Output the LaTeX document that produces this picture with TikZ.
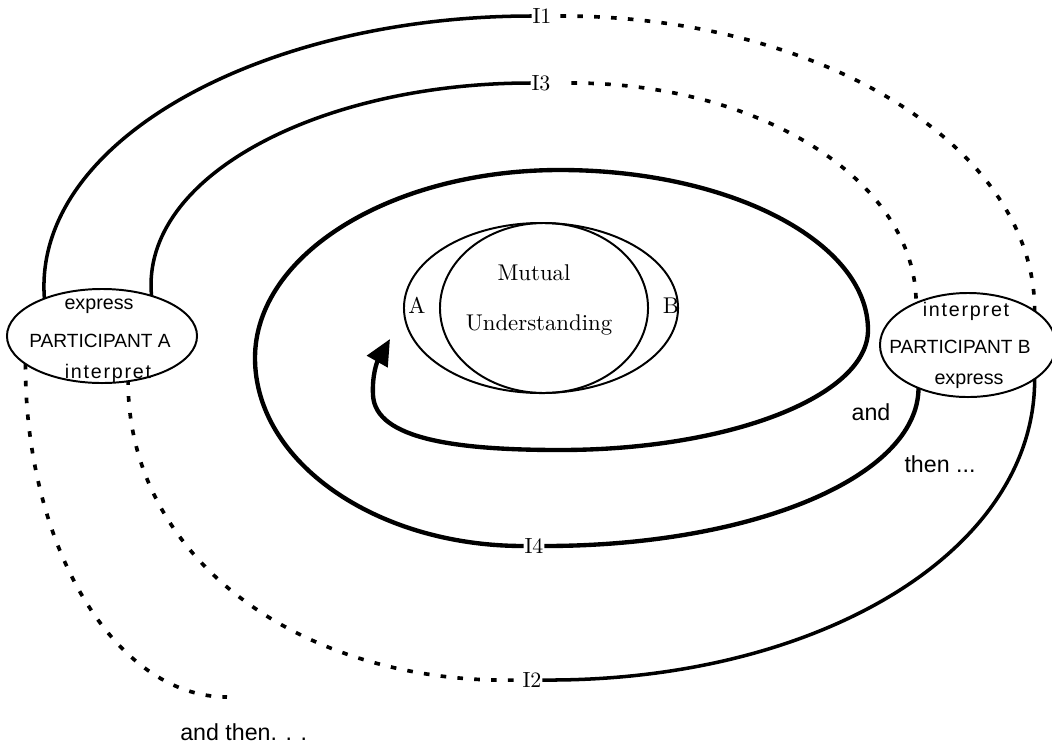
\documentclass[tikz,border=0pt]{standalone}
\usepackage{fontspec}
\newfontfamily\arialf{Liberation Sans}
\newfontfamily\arialwide{Liberation Sans}[LetterSpace=9]
\newfontfamily\lmten{lmroman10-regular}[Extension=.otf]
\usetikzlibrary{arrows.meta,shapes.geometric}
\begin{document}
\begin{tikzpicture}[x=0.025cm,y=-0.025cm,
  ell/.style={draw, ellipse, line width=1.4pt, inner sep=0pt, outer sep=0pt},
  solidline/.style={line width=2.5pt},
  thickline/.style={line width=3.1pt},
  dotline/.style={line width=2.6pt, dash pattern=on 4pt off 8pt},
  ilabel/.style={font=\lmten\fontsize{15.6}{18}\selectfont, inner sep=0.5pt},
  serlab/.style={font=\lmten\fontsize{16.2}{19}\selectfont, inner sep=0pt, anchor=base},
  sanslab/.style={font=\arialf\fontsize{13.6}{16}\selectfont, inner sep=0pt, anchor=base},
  explab/.style={font=\arialf\fontsize{14}{16}\selectfont, inner sep=0pt, anchor=base},
  widelab/.style={font=\arialwide\fontsize{14}{16}\selectfont, inner sep=0pt, anchor=base},
  biglab/.style={font=\arialf\fontsize{16.5}{19}\selectfont, inner sep=0pt, anchor=base}]
\useasboundingbox (0,0) rectangle (1052,745);

% participant ellipses
\node[ell, minimum width=4.75cm, minimum height=2.35cm] (A) at (102,336) {};
\node[ell, minimum width=4.4cm, minimum height=2.6cm] (B) at (968,345) {};
% mutual understanding
\node[ell, minimum width=6.85cm, minimum height=4.25cm] (UA) at (541,308) {};
\node[ell, minimum width=5.2cm, minimum height=4.25cm] (UB) at (544,308) {};

% texts
\node[explab] (Aexp) at (99,309) {express};
\node[sanslab] (Apart) at (100,347) {PARTICIPANT A};
\node[widelab] (Aint) at (108,378) {interpret};
\node[widelab] (Bint) at (966,316) {interpret};
\node[sanslab] (Bpart) at (960,353) {PARTICIPANT B};
\node[explab] (Bexp) at (969,384) {express};
\node[serlab] (mut) at (534,280) {Mutual};
\node[serlab] (und) at (539,330) {Understanding};
\node[serlab] (la) at (417,313) {A};
\node[serlab] (lb) at (671,313) {B};
\node[ilabel] (I1) at (542,16) {I1};
\node[ilabel] (I3) at (541,83) {I3};
\node[ilabel] (I4) at (534,546) {I4};
\node[ilabel] (I2) at (532,680) {I2};
\node[biglab] (and1) at (871,420) {and};
\node[biglab] (then1) at (940,472) {then ...};
\node[biglab, anchor=base west] (andthen) at (180,740) {and then. . .};

% I1
\draw[solidline] (A.147) .. controls (32,140) and (264,16) .. (I1.west);
\draw[dotline, shorten <=0.2cm] (I1.east) .. controls (823,16) and (1035,148) .. (B.27);
% I3
\draw[solidline] (A.39) .. controls (140,175) and (322,83) .. (I3.west);
\draw[dotline, shorten <=0.5cm] (I3.east) .. controls (762,83) and (916,182) .. (B.141);
% I2
\draw[solidline] (B.333) .. controls (1035,554) and (814,682) .. (I2.east);
\draw[dotline, shorten <=0.2cm] (I2.west) .. controls (300,683) and (128,558) .. (A.300);
% and then...
\coordinate (endA) at (227,697);
\draw[dotline] (A.200) .. controls (25,548) and (116,697) .. (endA);
% I4 and spiral
\draw[thickline] (B.221) .. controls (918,478) and (750,546) .. (I4.east);
\draw[thickline, -{Triangle[length=0.65cm,width=0.575cm]}] (I4.west)
  .. controls (376,546) and (255,462) .. (255,358)
  .. controls (255,254) and (392,170) .. (560,170)
  .. controls (730,170) and (868,242) .. (868,330)
  .. controls (868,396) and (730,450) .. (560,450)
  .. controls (460,450) and (375,440) .. (373,395)
  .. controls (372,375) and (377,362) .. (390,339);
\end{tikzpicture}
\end{document}
